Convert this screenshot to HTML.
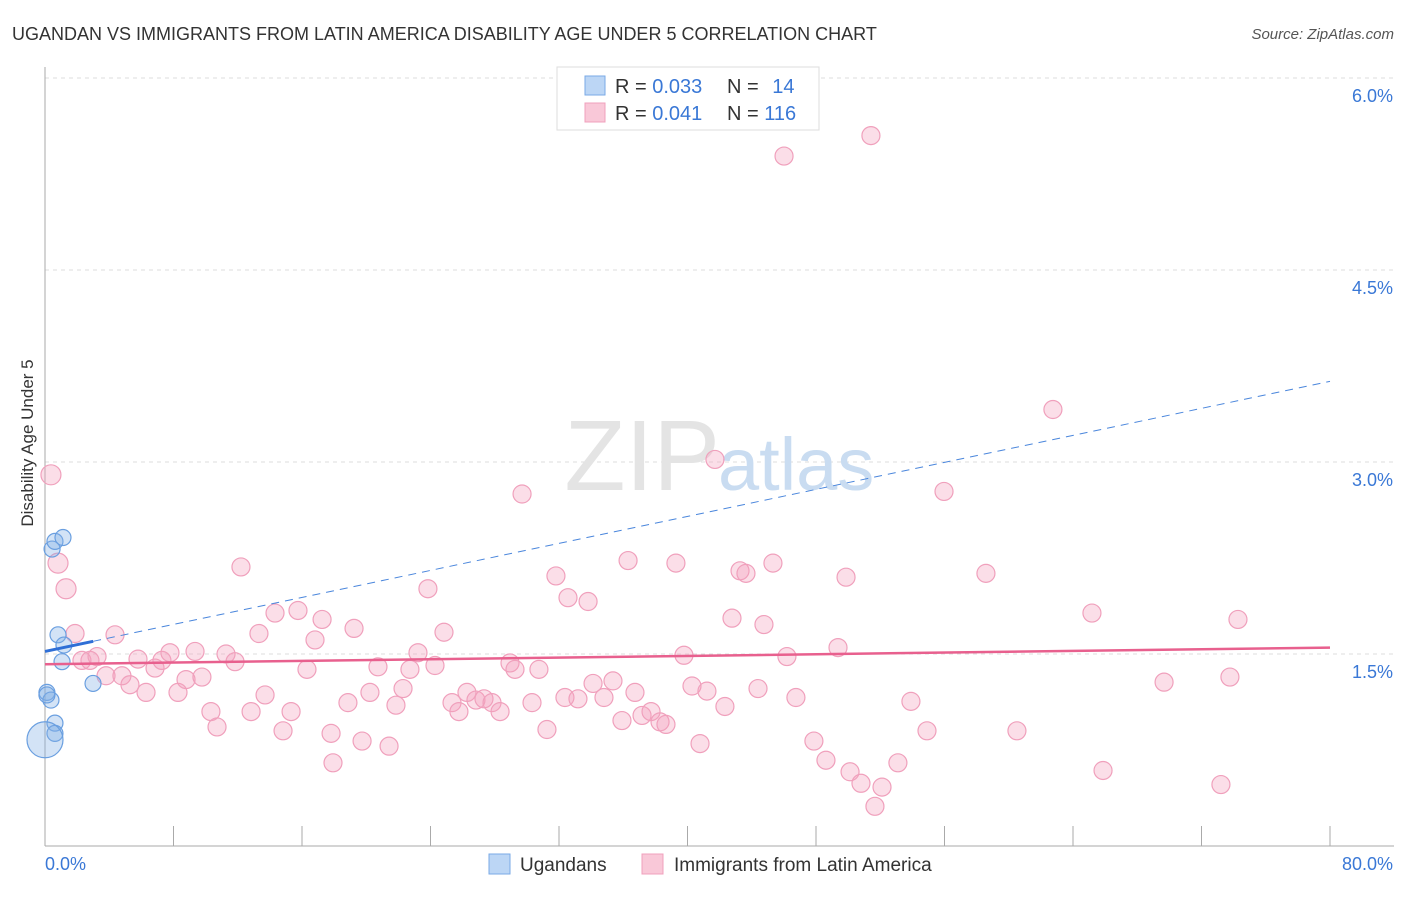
<!DOCTYPE html>
<html><head><meta charset="utf-8"><style>
body{margin:0;background:#fff;font-family:"Liberation Sans",sans-serif;}
svg text{font-family:"Liberation Sans",sans-serif;}
</style></head><body>
<svg width="1406" height="892" viewBox="0 0 1406 892">
<text x="12" y="40" font-size="18" fill="#333">UGANDAN VS IMMIGRANTS FROM LATIN AMERICA DISABILITY AGE UNDER 5 CORRELATION CHART</text>
<text x="1394" y="39" font-size="15" fill="#555" font-style="italic" text-anchor="end">Source: ZipAtlas.com</text>
<text x="12" y="0" transform="translate(33,455) rotate(-90)" font-size="17" fill="#333" text-anchor="middle">Disability Age Under 5</text>
<g id="grid"></g>
<text x="720" y="490" font-size="100" fill="#e4e4e4" text-anchor="end" font-family="Liberation Serif">ZIP</text>
<text x="718" y="490" font-size="74" fill="#c9dcf1">atlas</text>
<g id="axes"></g>
<g id="pts"></g>
<g id="trend"></g>
<g>
<rect x="557" y="67" width="262" height="63" fill="#fff" stroke="#ddd"/>
<rect x="585" y="76" width="20" height="19" fill="#bcd6f5" stroke="#7aaae6"/>
<rect x="585" y="103" width="20" height="19" fill="#f9c8d8" stroke="#f0a0bc"/>
<text x="615" y="93" font-size="20" fill="#333">R = <tspan fill="#3a78d6">0.033</tspan></text>
<text x="727" y="93" font-size="20" fill="#333">N = <tspan fill="#3a78d6" dx="8">14</tspan></text>
<text x="615" y="120" font-size="20" fill="#333">R = <tspan fill="#3a78d6">0.041</tspan></text>
<text x="727" y="120" font-size="20" fill="#333">N = <tspan fill="#3a78d6">116</tspan></text>
</g>
<g>
<rect x="489" y="854" width="21" height="20" fill="#bcd6f5" stroke="#7aaae6"/>
<text x="520" y="871" font-size="19" fill="#333">Ugandans</text>
<rect x="642" y="854" width="21" height="20" fill="#f9c8d8" stroke="#f0a0bc"/>
<text x="674" y="871" font-size="19" fill="#333">Immigrants from Latin America</text>
</g>
</svg>
<script>
const yTicks=[1.5,3.0,4.5,6.0];
const yTickLabels=["1.5%","3.0%","4.5%","6.0%"];
const xTickLabels=["0.0%","80.0%"];
const pinkX=[0.37,0.81,1.31,1.87,2.30,2.80,3.24,3.80,4.36,4.79,5.29,5.79,6.29,6.85,7.28,7.78,8.28,8.78,9.34,9.77,10.33,10.71,11.27,11.83,12.20,12.83,13.32,13.70,14.32,14.82,15.32,15.75,16.31,16.81,17.25,17.81,17.93,18.86,19.24,19.74,20.23,20.73,21.42,21.85,22.29,22.72,23.22,23.84,24.28,24.84,25.34,25.77,26.27,26.83,27.33,27.83,28.33,28.95,29.26,29.70,30.32,30.75,31.25,31.81,32.37,32.56,33.18,33.81,34.12,34.80,35.36,35.92,36.30,36.73,37.17,37.73,38.29,38.66,39.28,39.78,40.28,40.78,41.21,41.71,42.33,42.77,43.27,43.64,44.39,44.76,45.32,46.01,46.19,46.75,47.87,48.62,49.37,49.87,50.12,50.80,51.42,51.67,52.11,53.10,53.91,54.91,55.97,58.58,60.51,62.75,65.18,65.87,69.67,73.21,73.77,74.27];
const pinkY=[2.90,2.21,2.01,1.66,1.45,1.45,1.48,1.33,1.65,1.33,1.26,1.46,1.20,1.39,1.45,1.51,1.20,1.30,1.52,1.32,1.05,0.93,1.50,1.44,2.18,1.05,1.66,1.18,1.82,0.90,1.05,1.84,1.38,1.61,1.77,0.88,0.65,1.12,1.70,0.82,1.20,1.40,0.78,1.10,1.23,1.38,1.51,2.01,1.41,1.67,1.12,1.05,1.20,1.14,1.15,1.12,1.05,1.43,1.38,2.75,1.12,1.38,0.91,2.11,1.16,1.94,1.15,1.91,1.27,1.16,1.29,0.98,2.23,1.20,1.02,1.05,0.97,0.95,2.21,1.49,1.25,0.80,1.21,3.02,1.09,1.78,2.15,2.13,1.23,1.73,2.21,5.39,1.48,1.16,0.82,0.67,1.55,2.10,0.58,0.49,5.55,0.31,0.46,0.65,1.13,0.90,2.77,2.13,0.90,3.41,1.82,0.59,1.28,0.48,1.32,1.77];
const blueX=[0.44,0.62,1.12,0.81,1.18,1.06,2.99,0.12,0.37,0.62,0.62,0.0,0.12];
const blueY=[2.32,2.38,2.41,1.65,1.57,1.44,1.27,1.20,1.14,0.96,0.88,0.83,1.18];
const pinkTrend=[1.42,1.55];
const blueTrend=[1.52,3.63];
const blueSolidEnd=3.0;
const X=v=>45+v/80*1285, Y=v=>846-v*128;
const NS="http://www.w3.org/2000/svg";
function mk(t,a,p){const e=document.createElementNS(NS,t);for(const k in a)e.setAttribute(k,a[k]);p.appendChild(e);return e;}
const grid=document.getElementById('grid'),axes=document.getElementById('axes'),pts=document.getElementById('pts'),tr=document.getElementById('trend');
yTicks.forEach((t,i)=>{
 const l=mk('line',{x1:45,x2:1394,y1:Y(t),y2:Y(t),stroke:'#ddd','stroke-dasharray':'4,4'},grid);
 
 
 const tx=mk('text',{x:1393,y:Y(t)+24,'font-size':18,fill:'#3a78d6','text-anchor':'end'},axes);
 tx.textContent=yTickLabels[i];
 
 
});
let a=mk('line',{x1:45,x2:45,y1:67,y2:846,stroke:'#aaa'},axes);


a=mk('line',{x1:45,x2:1394,y1:846,y2:846,stroke:'#aaa'},axes);


for(let i=1;i<=10;i++){const tk=mk('line',{x1:X(i*8),x2:X(i*8),y1:826,y2:846,stroke:'#aaa'},axes);
 
 }
[[45,'start',0],[1393,'end',1]].forEach(([x,an,i])=>{const t=mk('text',{x:x,y:870,'font-size':18,fill:'#3a78d6','text-anchor':an},axes);t.textContent=xTickLabels[i];
 
 });
pinkX.forEach((v,i)=>{const c=mk('circle',{cx:X(v),cy:Y(pinkY[i]),r:i<3?10:9,fill:'rgba(244,160,190,0.35)',stroke:'#f0a0bc','stroke-width':1.2},pts);
 
 });
blueX.forEach((v,i)=>{const c=mk('circle',{cx:X(v),cy:Y(blueY[i]),r:i==11?18:8,fill:'rgba(130,175,230,0.35)',stroke:'#6a9fe0','stroke-width':1.2},pts);
 
 });
const by=v=>blueTrend[0]+(blueTrend[1]-blueTrend[0])*v/80;
let l=mk('line',{x1:X(blueSolidEnd),y1:Y(by(blueSolidEnd)),x2:X(80),y2:Y(by(80)),stroke:'#4a86dc','stroke-width':1,'stroke-dasharray':'8,6'},tr);


l=mk('line',{x1:X(0),y1:Y(by(0)),x2:X(blueSolidEnd),y2:Y(by(blueSolidEnd)),stroke:'#2f6fd6','stroke-width':3},tr);


l=mk('line',{x1:X(0),y1:Y(pinkTrend[0]),x2:X(80),y2:Y(pinkTrend[1]),stroke:'#e8608e','stroke-width':2.5},tr);


</script>
</body></html>
